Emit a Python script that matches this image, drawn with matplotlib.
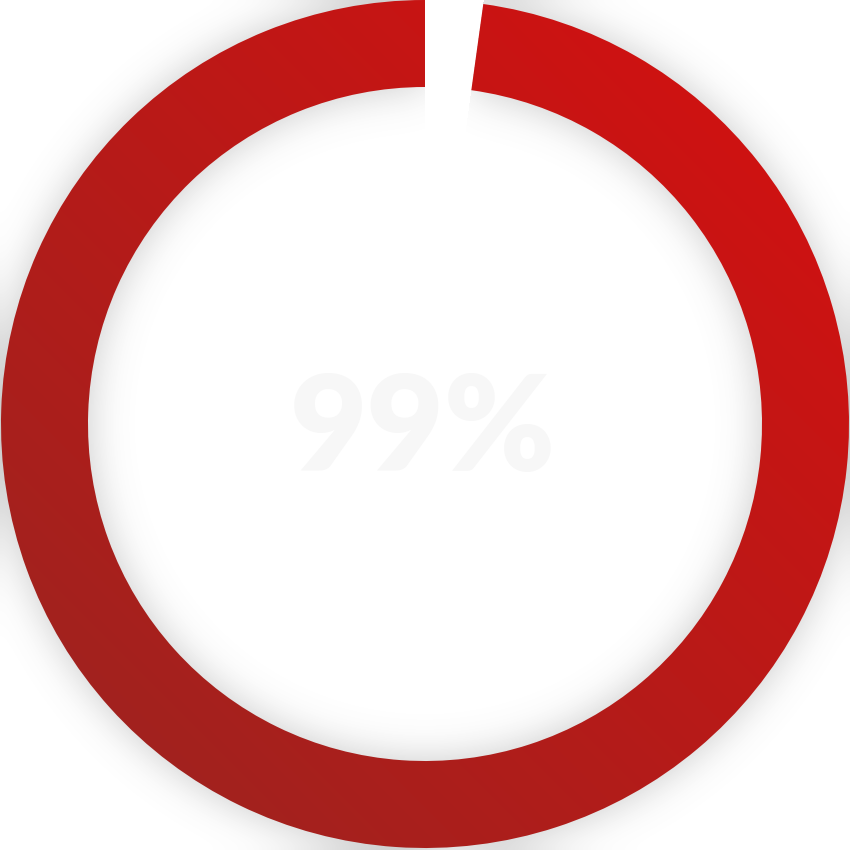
import numpy as np
import matplotlib
matplotlib.use("Agg")
import matplotlib.pyplot as plt
from matplotlib.patches import Wedge
from matplotlib.colors import LinearSegmentedColormap

# ---- data ----
values = [99]            # percent complete
labels = ["99%"]

# ---- style ----
W = 850
CX, CY = 425.0, 426.0
R_OUT = 424.0
RING_W = 87.0
GAP_PAD = 4.3            # extra visual gap (deg)
COLOR_DARK = "#9C2420"
COLOR_BRIGHT = "#D41010"
TEXT_COLOR = "#F7F7F7"

pct = values[0]
gap = 360.0 * (100 - pct) / 100.0 + GAP_PAD
theta_start = 90.0
theta_end = 90.0 - gap + 360.0

fig = plt.figure(figsize=(8.5, 8.5), dpi=100)
ax = fig.add_axes([0, 0, 1, 1])
ax.set_xlim(0, W)
ax.set_ylim(0, W)
ax.set_aspect("equal")
ax.axis("off")

# ---- soft shadow (blurred ring mask) ----
yy, xx = np.mgrid[0:W, 0:W] + 0.5
dx, dy = xx - CX, yy - CY
rr = np.hypot(dx, dy)
ang = (np.degrees(np.arctan2(dy, dx)) + 360) % 360
in_gap = (ang > 90 - gap) & (ang < 90)
ring_mask = ((rr <= R_OUT) & (rr >= R_OUT - RING_W) & ~in_gap).astype(float)
sigma = 20.0
k = np.fft.fftfreq(W)
g = np.exp(-2 * (np.pi * sigma) ** 2 * (k[:, None] ** 2 + k[None, :] ** 2))
blur = np.real(np.fft.ifft2(np.fft.fft2(ring_mask) * g))
blur = np.clip(blur, 0, 1)
shadow_alpha = 0.38 * blur
shadow_alpha[in_gap & (rr < R_OUT + 5)] = 0
shadow = np.zeros((W, W, 4))
shadow[..., :3] = 0.45
shadow[..., 3] = shadow_alpha
ax.imshow(shadow, origin="lower", extent=(0, W, 0, W), zorder=1, interpolation="bilinear")

# ---- ring with diagonal gradient ----
wedge = Wedge((CX, CY), R_OUT, theta_start, theta_end, width=RING_W,
              facecolor="none", edgecolor="none")
ax.add_patch(wedge)
t = (xx + yy) / (2 * W)
cmap = LinearSegmentedColormap.from_list("red", [COLOR_DARK, COLOR_BRIGHT])
im = ax.imshow(t, origin="lower", extent=(0, W, 0, W), cmap=cmap,
               vmin=0.05, vmax=0.95, zorder=2, interpolation="bilinear")
im.set_clip_path(wedge)

# ---- centre label ----
ax.text(CX - 2, CY - 8, labels[0], ha="center", va="center",
        fontsize=96, fontweight="heavy", color=TEXT_COLOR,
        family=["Lato", "DejaVu Sans"], zorder=3)

fig.savefig("out.png", dpi=100, facecolor="white")
